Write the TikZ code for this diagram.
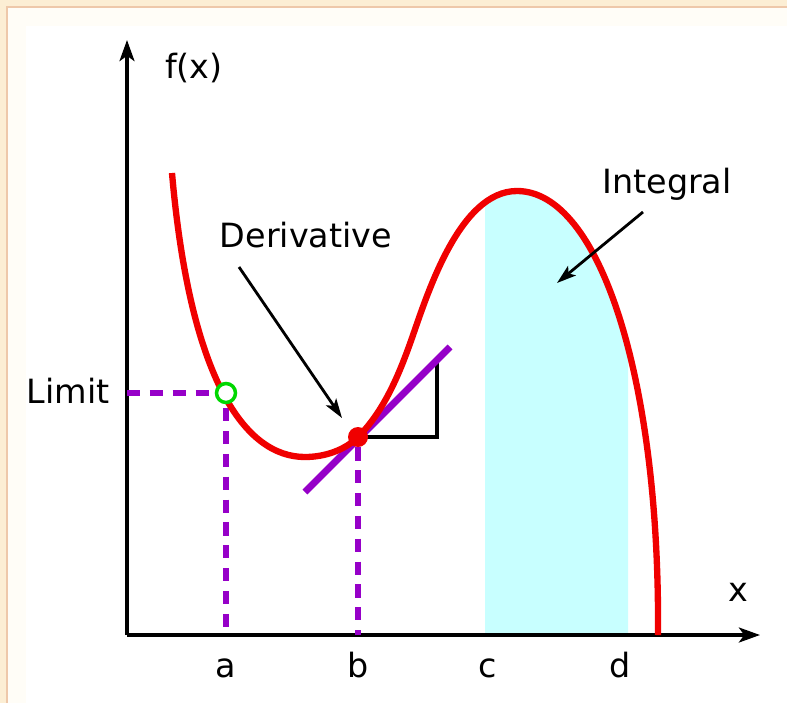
\documentclass[tikz,border=0pt]{standalone}
\usepackage{fontspec}
\setmainfont{DejaVu Sans}
\usetikzlibrary{arrows.meta, positioning}
\definecolor{CurveRed}{RGB}{240,0,0}
\definecolor{GuidePurple}{RGB}{150,0,200}
\definecolor{AreaCyan}{RGB}{200,255,255}
\definecolor{LimGreen}{RGB}{0,215,0}
\definecolor{FrameTan}{RGB}{252,238,212}
\definecolor{FrameLine}{RGB}{238,200,170}
\definecolor{FrameWash}{RGB}{255,253,247}

\begin{document}
\begin{tikzpicture}[x=0.02cm, y=-0.02cm,
    axis/.style={line width=2pt, -{Stealth[length=12pt, width=8.5pt, inset=3pt]}},
    pointer/.style={line width=1.6pt, -{Stealth[length=11pt, width=7pt, inset=2.5pt]}},
    guide/.style={GuidePurple, line width=3.2pt, dash pattern=on 7.5pt off 5.5pt},
    lbl/.style={font=\fontsize{19}{23}\selectfont, inner sep=0pt},
    func/.style={CurveRed, line width=3.6pt},
    fgraph/.style={insert path={(172,173)
        .. controls (190,380) and (245,457) .. (305,457)
        .. controls (325,457) and (345,450) .. (358,437)
        .. controls (385,410) and (400,372) .. (412,338)
        .. controls (428,292) and (460,191) .. (517,191)
        .. controls (600,191) and (660,380) .. (658,635)}}
  ]
  % Frame
  \useasboundingbox (0,0) rectangle (787,703);
  \fill[white] (0,0) rectangle (787,703);
  \fill[FrameWash] (0,0) rectangle (787,26);
  \fill[FrameWash] (0,0) rectangle (26,703);
  \fill[FrameTan] (0,0) rectangle (787,7);
  \fill[FrameTan] (0,0) rectangle (7,703);
  \draw[FrameLine, line width=0.6pt] (7,703) -- (7,7) -- (787,7);

  % Area under the curve
  \begin{scope}
    \clip (485,0) rectangle (628,635);
    \path[fill=AreaCyan] [fgraph] -- (172,635) -- cycle;
  \end{scope}

  % Axes
  \coordinate (O)    at (127,635);
  \coordinate (ytop) at (127,40);
  \coordinate (xend) at (760,635);
  \draw[axis] (O) -- (ytop);
  \draw[axis] (O) -- (xend);
  \node[lbl] (fx) at (194,68) {f(x)};
  \node[lbl] (xl) at (738,592) {x};

  % Tick labels
  \node[lbl, anchor=base] (ta) at (226,677) {a};
  \node[lbl, anchor=base] (tb) at (358,677) {b};
  \node[lbl, anchor=base] (tc) at (488,677) {c};
  \node[lbl, anchor=base] (td) at (620,677) {d};

  % Limit
  \node[lbl, anchor=base] (limlbl) at (68,403) {Limit};
  \coordinate (ylim) at (127,393);
  \coordinate (xa)   at (226,635);
  \coordinate (xb)   at (358,635);
  \draw[guide] (ylim) -- (226,393) -- (xa);

  % Tangent and slope
  \coordinate (tan0)   at (305,492);
  \coordinate (tan1)   at (450,347);
  \coordinate (corner) at (437,437);
  \coordinate (rise)   at (437,360);
  \draw[black, line width=2pt] (358,437) -- (corner) -- (rise);
  \draw[GuidePurple, line width=4pt] (tan0) -- (tan1);

  % Curve
  \draw[func] [fgraph];
  \node[circle, draw=LimGreen, fill=white, line width=2pt,
        minimum size=0.38cm, inner sep=0pt] (limpt) at (226,393) {};
  \node[circle, fill=CurveRed, minimum size=0.4cm, inner sep=0pt] (tanpt) at (358,437) {};
  \draw[guide] (tanpt) -- (xb);

  % Labels
  \node[lbl, anchor=base] (derlbl) at (306,247) {Derivative};
  \coordinate (dtail) at (239,267);
  \coordinate (dtip)  at (342,418);
  \draw[pointer] (dtail) -- (dtip);

  \node[lbl, anchor=base] (intlbl) at (667,193) {Integral};
  \coordinate (itail) at (643,212);
  \coordinate (itip)  at (557,283);
  \draw[pointer] (itail) -- (itip);
\end{tikzpicture}
\end{document}
